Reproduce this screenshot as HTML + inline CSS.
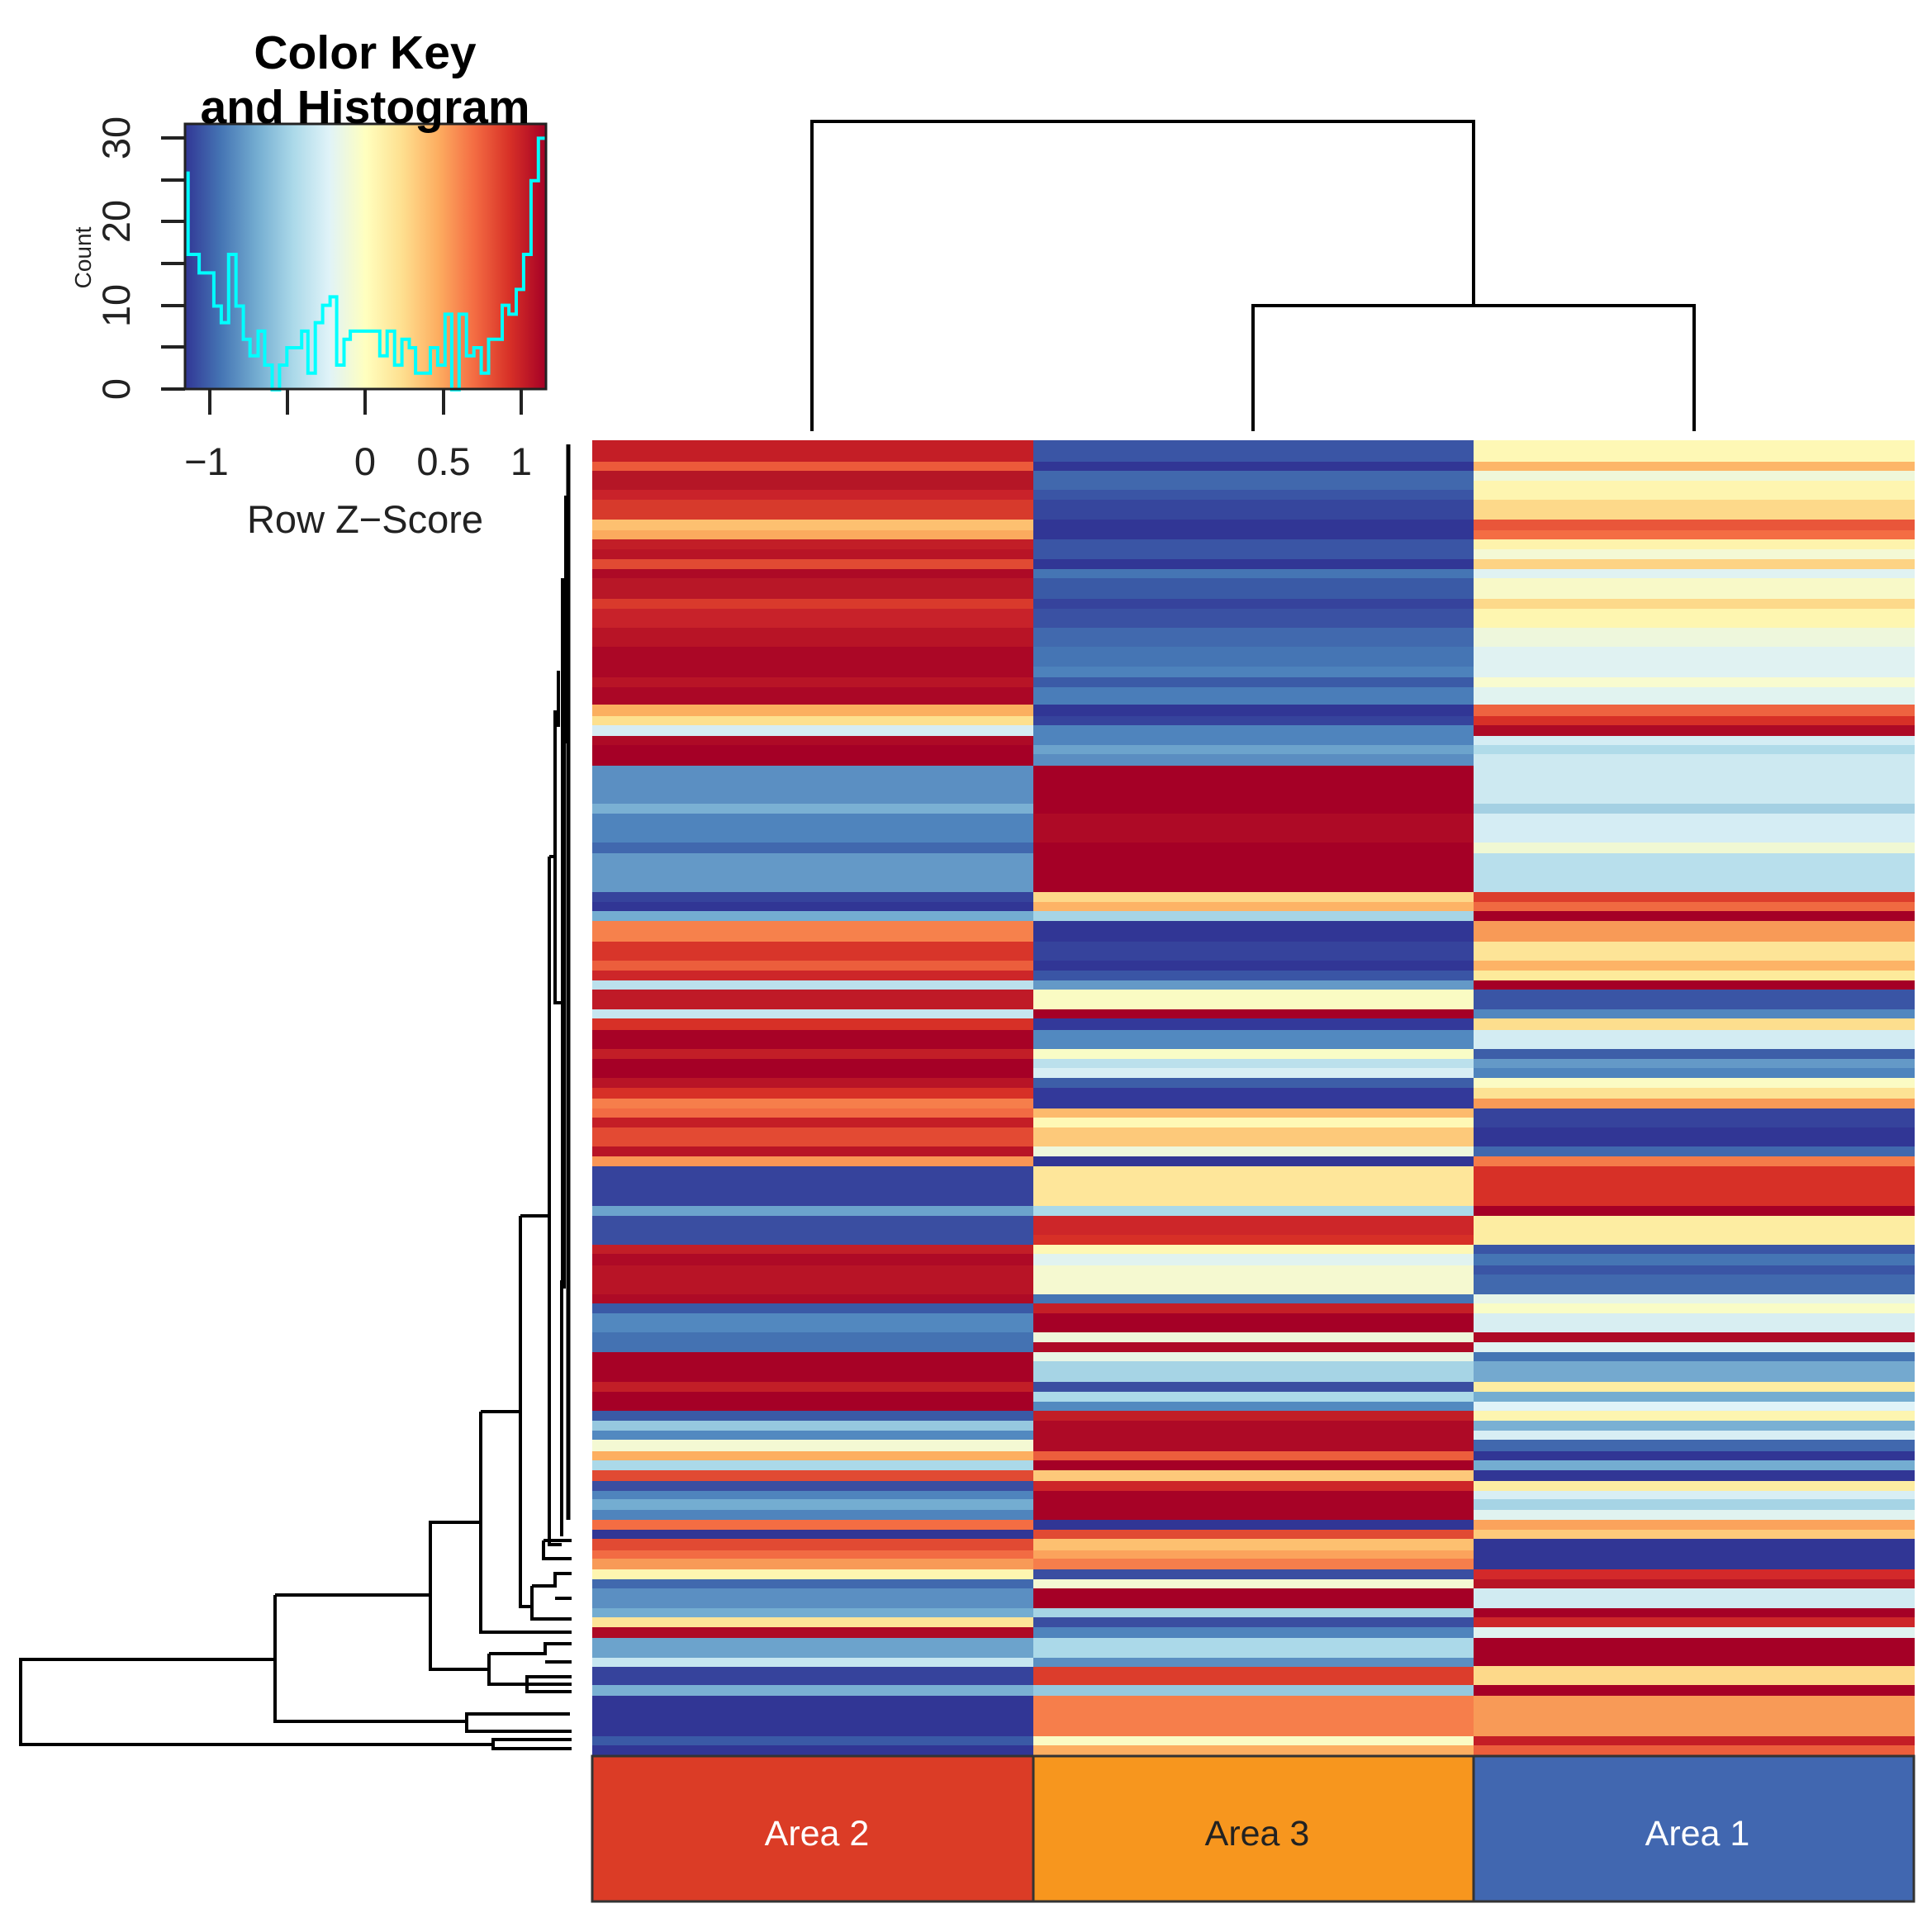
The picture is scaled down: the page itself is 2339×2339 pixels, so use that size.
<!DOCTYPE html>
<html><head><meta charset="utf-8">
<style>
html,body{margin:0;padding:0;background:#fff;}
svg{display:block;}
text{font-family:"Liberation Sans",Arial,sans-serif;}
</style></head>
<body>
<svg id="s" width="2339" height="2339" viewBox="0 0 2339 2339" xmlns="http://www.w3.org/2000/svg">
<defs>
<linearGradient id="g" x1="0" x2="1" y1="0" y2="0">
<stop offset="0" stop-color="#313695"/>
<stop offset="0.1" stop-color="#4575b4"/>
<stop offset="0.2" stop-color="#74add1"/>
<stop offset="0.3" stop-color="#abd9e9"/>
<stop offset="0.4" stop-color="#e0f3f8"/>
<stop offset="0.5" stop-color="#ffffbf"/>
<stop offset="0.6" stop-color="#fee090"/>
<stop offset="0.7" stop-color="#fdae61"/>
<stop offset="0.8" stop-color="#f46d43"/>
<stop offset="0.9" stop-color="#d73027"/>
<stop offset="1" stop-color="#a50026"/>
</linearGradient>
</defs>
<rect width="2339" height="2339" fill="#fff"/>
<g id="hm"></g>

<rect x="717" y="2126" width="534" height="176" fill="#db3c26" stroke="#333" stroke-width="3"/>
<rect x="1251" y="2126" width="533" height="176" fill="#f7961e" stroke="#333" stroke-width="3"/>
<rect x="1784" y="2126" width="533" height="176" fill="#4167b0" stroke="#333" stroke-width="3"/>
<text x="989" y="2234" font-size="43" fill="#fff" text-anchor="middle">Area 2</text>
<text x="1522" y="2234" font-size="43" fill="#222" text-anchor="middle">Area 3</text>
<text x="2055" y="2234" font-size="43" fill="#fff" text-anchor="middle">Area 1</text>

<g stroke="#000" stroke-width="4" fill="none">
<path d="M983 522 V147 H1784 V370"/>
<path d="M1517 522 V370 H2051 V522"/>
</g>

<g stroke="#000" stroke-width="4" fill="none">
<path d="M692 2106 H597 V2117 H692"/>
<path d="M597 2112 H25 V2009 H333"/>
<path d="M333 1931 V2084 H565"/>
<path d="M690 2075 H565 V2096 H692"/>
<path d="M521 1931 H333"/>
<path d="M582 1843 H521 V2021 H592"/>
<path d="M592 2002 V2039 H692 M592 2002 H660 V1990 H692 M660 2012 H692"/>
<path d="M692 2030 H638 V2048 H692"/>
<path d="M582 1709 V1976 H692 M582 1709 H630"/>
<path d="M630 1472 V1945 H644 M630 1472 H665"/>
<path d="M644 1920 V1960 H692 M644 1920 H672 V1905 H692 M672 1935 H692"/>
<path d="M658 1865 V1887 H692 M658 1865 H692"/>
<path d="M665 1037 V1870 H680 M665 1037 H672"/>
<path d="M672 860 V1214 H680"/>
<path d="M676 812 V880"/>
</g>
<g stroke="#000" fill="none">
<path d="M688 538 V1840" stroke-width="5"/>
<path d="M682 700 V1560" stroke-width="6"/>
<path d="M680 1550 V1860" stroke-width="4"/>
<path d="M685 600 V900" stroke-width="4"/>
</g>

<rect x="224" y="150" width="437" height="321" fill="url(#g)"/>
<g id="hist"></g>
<rect x="224" y="150" width="437" height="321" fill="none" stroke="#222" stroke-width="3"/>
<g stroke="#222" stroke-width="4">
<line x1="195" y1="471" x2="224" y2="471"/>
<line x1="195" y1="420" x2="224" y2="420"/>
<line x1="195" y1="370" x2="224" y2="370"/>
<line x1="195" y1="319" x2="224" y2="319"/>
<line x1="195" y1="268" x2="224" y2="268"/>
<line x1="195" y1="218" x2="224" y2="218"/>
<line x1="195" y1="167" x2="224" y2="167"/>
<line x1="254" y1="471" x2="254" y2="502"/>
<line x1="348" y1="471" x2="348" y2="502"/>
<line x1="442" y1="471" x2="442" y2="502"/>
<line x1="537" y1="471" x2="537" y2="502"/>
<line x1="631" y1="471" x2="631" y2="502"/>
</g>
<g font-size="47" fill="#222" text-anchor="middle">
<text transform="translate(157,471) rotate(-90)">0</text>
<text transform="translate(157,370) rotate(-90)">10</text>
<text transform="translate(157,268) rotate(-90)">20</text>
<text transform="translate(157,167) rotate(-90)">30</text>
<text x="250" y="575">−1</text>
<text x="442" y="575">0</text>
<text x="537" y="575">0.5</text>
<text x="631" y="575">1</text>
<text x="442" y="645">Row Z−Score</text>
</g>
<text transform="translate(110,312) rotate(-90)" font-size="28" fill="#222" text-anchor="middle">Count</text>
<g font-size="57" font-weight="bold" fill="#000" text-anchor="middle">
<text x="442" y="83">Color Key</text>
<text x="442" y="149">and Histogram</text>
</g>
</svg>
<script>
var A=[[559,"#c41e26"],[570,"#ec5a3a"],[593,"#b51626"],[605,"#c9222a"],[629,"#d73a2c"],[642,"#fdc070"],[653,"#fbaa5e"],[665,"#c21e27"],[677,"#b81426"],[689,"#e14a33"],[700,"#ad0a26"],[725,"#b81727"],[737,"#d93a2c"],[760,"#c8222a"],[783,"#b81426"],[820,"#ab0726"],[832,"#b81426"],[853,"#ab0726"],[867,"#fbaf5f"],[878,"#fde08e"],[891,"#d6ecf3"],[902,"#ae0a26"],[927,"#a50026"],[973,"#5b8fc2"],[985,"#7ab0d3"],[1020,"#4f84bd"],[1033,"#4168ae"],[1080,"#6499c7"],[1092,"#36439c"],[1103,"#313695"],[1115,"#74add1"],[1140,"#f6814c"],[1163,"#d8352a"],[1175,"#ec5e3c"],[1187,"#cd2629"],[1198,"#bbe0ec"],[1222,"#bf1a27"],[1233,"#c6e6f0"],[1247,"#d73027"],[1270,"#a70226"],[1282,"#c21e27"],[1305,"#a50026"],[1317,"#b81426"],[1330,"#d73027"],[1342,"#f67e4b"],[1353,"#f26b43"],[1365,"#c41e26"],[1388,"#e34a33"],[1400,"#b81426"],[1412,"#f99555"],[1460,"#36439c"],[1472,"#6ca3cc"],[1507,"#3a4ea1"],[1518,"#c21e27"],[1532,"#ae0a26"],[1567,"#b81426"],[1578,"#ae0a26"],[1590,"#3a5aa6"],[1613,"#5288bf"],[1637,"#4472b2"],[1673,"#a70226"],[1685,"#c21e27"],[1708,"#a50026"],[1720,"#3a5aa6"],[1732,"#96c8df"],[1743,"#5289c0"],[1757,"#f4f9d3"],[1768,"#fdaf60"],[1780,"#abd9e9"],[1793,"#e14a33"],[1805,"#3a4ea1"],[1815,"#4f84bd"],[1828,"#74add1"],[1840,"#4f84bd"],[1852,"#f46d43"],[1863,"#313695"],[1877,"#e14a33"],[1887,"#f26b43"],[1900,"#f89a57"],[1912,"#fef5b0"],[1923,"#4169ae"],[1947,"#5b8fc2"],[1958,"#74add1"],[1970,"#fde497"],[1983,"#ae0a26"],[2007,"#6ca3cc"],[2018,"#c6e6f0"],[2040,"#36439c"],[2053,"#7ab0d3"],[2102,"#313695"],[2113,"#3a5aa6"],[2124,"#313695"]];
var B=[[559,"#3a55a5"],[570,"#313695"],[593,"#4168ad"],[605,"#3a55a5"],[629,"#36469d"],[653,"#313695"],[677,"#3a55a5"],[689,"#313695"],[700,"#4575b4"],[725,"#3a5aa6"],[737,"#36439c"],[760,"#3a51a3"],[783,"#4169ae"],[807,"#4575b4"],[820,"#4d82bc"],[832,"#3b5ba7"],[853,"#4a7db9"],[867,"#313695"],[878,"#36439c"],[902,"#4f84bd"],[913,"#6ca3cc"],[927,"#5a8dc1"],[985,"#a50026"],[1020,"#ae0a26"],[1080,"#a50026"],[1092,"#fdd88a"],[1103,"#fdb366"],[1115,"#a6d4e5"],[1140,"#313695"],[1163,"#36439c"],[1175,"#313695"],[1187,"#3a55a5"],[1198,"#6499c7"],[1222,"#fafbc3"],[1233,"#a50026"],[1247,"#33399a"],[1270,"#5289c0"],[1282,"#f9fcc6"],[1293,"#bbe0ec"],[1305,"#d8eef4"],[1317,"#3d5ea8"],[1342,"#33399a"],[1353,"#fdba6c"],[1365,"#fef8b5"],[1388,"#fdc97a"],[1400,"#eef7dc"],[1412,"#313695"],[1460,"#fee69a"],[1472,"#abd9e9"],[1495,"#cd2629"],[1507,"#d73027"],[1518,"#fef8b5"],[1532,"#e1f3f0"],[1567,"#f5f9d0"],[1578,"#4575b4"],[1590,"#c41e26"],[1613,"#a50026"],[1625,"#eff7da"],[1637,"#ae0a26"],[1648,"#e8f5e6"],[1673,"#a6d4e5"],[1685,"#3a4ea1"],[1697,"#abd9e9"],[1708,"#5289c0"],[1720,"#c21e27"],[1757,"#ae0a26"],[1768,"#ec5e3c"],[1780,"#a50026"],[1793,"#fdc97a"],[1805,"#cd2629"],[1840,"#a70226"],[1852,"#313695"],[1863,"#e14a33"],[1877,"#fdc070"],[1887,"#fba35c"],[1900,"#f67e4b"],[1912,"#3a4ea1"],[1923,"#f4f9d3"],[1947,"#a50026"],[1958,"#a6d4e5"],[1970,"#3a4ea1"],[1983,"#4f84bd"],[2007,"#abd9e9"],[2018,"#5b8fc2"],[2040,"#dc3d2c"],[2053,"#96c8df"],[2102,"#f67e4b"],[2113,"#fbfbc4"],[2124,"#fdae61"]];
var C=[[559,"#fef8b5"],[570,"#fdb668"],[582,"#eff7da"],[605,"#fef5b0"],[629,"#fdd98a"],[642,"#e9563a"],[653,"#f46d43"],[665,"#fef3ac"],[677,"#f4f9d5"],[689,"#fdd384"],[700,"#e0f2f2"],[725,"#f8f9c8"],[737,"#fdd98a"],[760,"#fef6b0"],[783,"#eef7dc"],[820,"#e0f2f2"],[832,"#f8fbcf"],[853,"#e1f3f0"],[867,"#ee6340"],[878,"#d73027"],[891,"#ad0a26"],[902,"#d4edf4"],[913,"#b0dbe9"],[973,"#cde9f1"],[985,"#a4d0e3"],[1020,"#d5edf4"],[1033,"#f0f8d3"],[1080,"#b8dfec"],[1092,"#dc3d2c"],[1103,"#f06a41"],[1115,"#a50026"],[1140,"#f89a57"],[1163,"#fde497"],[1175,"#fdb366"],[1187,"#fdea9b"],[1198,"#a50026"],[1222,"#3a55a5"],[1233,"#5187bf"],[1247,"#fdde8e"],[1270,"#d3ecf3"],[1282,"#3d5ea8"],[1293,"#6499c7"],[1305,"#4f84bd"],[1317,"#fbfbc4"],[1330,"#fde294"],[1342,"#f89a57"],[1365,"#36439c"],[1388,"#313695"],[1400,"#4168ae"],[1412,"#f47b49"],[1460,"#d73027"],[1472,"#a50026"],[1507,"#fdeda2"],[1518,"#3a55a5"],[1532,"#4575b4"],[1543,"#3a55a5"],[1567,"#4169ae"],[1578,"#e6f4e8"],[1590,"#f9fcc6"],[1613,"#d8eef2"],[1625,"#ae0a26"],[1637,"#e0f2f2"],[1648,"#4575b4"],[1673,"#74a9cf"],[1685,"#fdeda2"],[1697,"#74add1"],[1708,"#e0f3f8"],[1720,"#fdf5b0"],[1732,"#7ab0d3"],[1743,"#d8eef4"],[1757,"#4168ae"],[1768,"#313695"],[1780,"#74add1"],[1793,"#313695"],[1805,"#fdeda2"],[1815,"#d8eef4"],[1828,"#a6d4e5"],[1840,"#e0f3f0"],[1852,"#fba35c"],[1863,"#fdc97a"],[1900,"#313695"],[1912,"#d3292a"],[1923,"#b81426"],[1947,"#d1ebf2"],[1958,"#a50026"],[1970,"#cd2629"],[1983,"#e0f3f0"],[2017,"#a50026"],[2040,"#fdd98a"],[2053,"#a50026"],[2102,"#f89a57"],[2113,"#c41e26"],[2124,"#ec5e3c"]];
var NS="http://www.w3.org/2000/svg",hm=document.getElementById("hm");
function col(d,x,w){var y=533;for(var i=0;i<d.length;i++){var r=document.createElementNS(NS,"rect");r.setAttribute("x",x);r.setAttribute("y",y);r.setAttribute("width",w);r.setAttribute("height",d[i][0]-y+0.6);r.setAttribute("fill",d[i][1]);hm.appendChild(r);y=d[i][0];}}
col(A,717,534);col(B,1251,533);col(C,1784,534);
var pts=[[510,465],[510,690],[540,690],[540,740],[580,740],[580,830],[600,830],[600,875],[620,875],[620,690],[640,690],[640,830],[660,830],[660,920],[678,920],[678,965],[700,965],[700,898],[718,898],[718,990],[738,990],[738,1057],[758,1057],[758,990],[778,990],[778,943],[818,943],[818,898],[835,898],[835,1012],[855,1012],[855,875],[875,875],[875,828],[895,828],[895,805],[913,805],[913,990],[933,990],[933,920],[950,920],[950,898],[1030,898],[1030,965],[1050,965],[1050,898],[1070,898],[1070,990],[1090,990],[1090,920],[1110,920],[1110,943],[1127,943],[1127,1012],[1167,1012],[1167,943],[1187,943],[1187,990],[1207,990],[1207,852],[1225,852],[1225,1057],[1245,1057],[1245,852],[1265,852],[1265,965],[1285,965],[1285,943],[1305,943],[1305,1012],[1325,1012],[1325,920],[1362,920],[1362,828],[1380,828],[1380,852],[1400,852],[1400,785],[1420,785],[1420,690],[1440,690],[1440,490],[1460,490],[1460,375],[1480,375]];
var s=pts.map(function(p){return (p[0]/2.24).toFixed(1)+","+(p[1]/2.24).toFixed(1);}).join(" ");
var pl=document.createElementNS(NS,"polyline");pl.setAttribute("points",s);pl.setAttribute("fill","none");pl.setAttribute("stroke","#00ffff");pl.setAttribute("stroke-width","4");
document.getElementById("hist").appendChild(pl);
</script>
</body></html>
